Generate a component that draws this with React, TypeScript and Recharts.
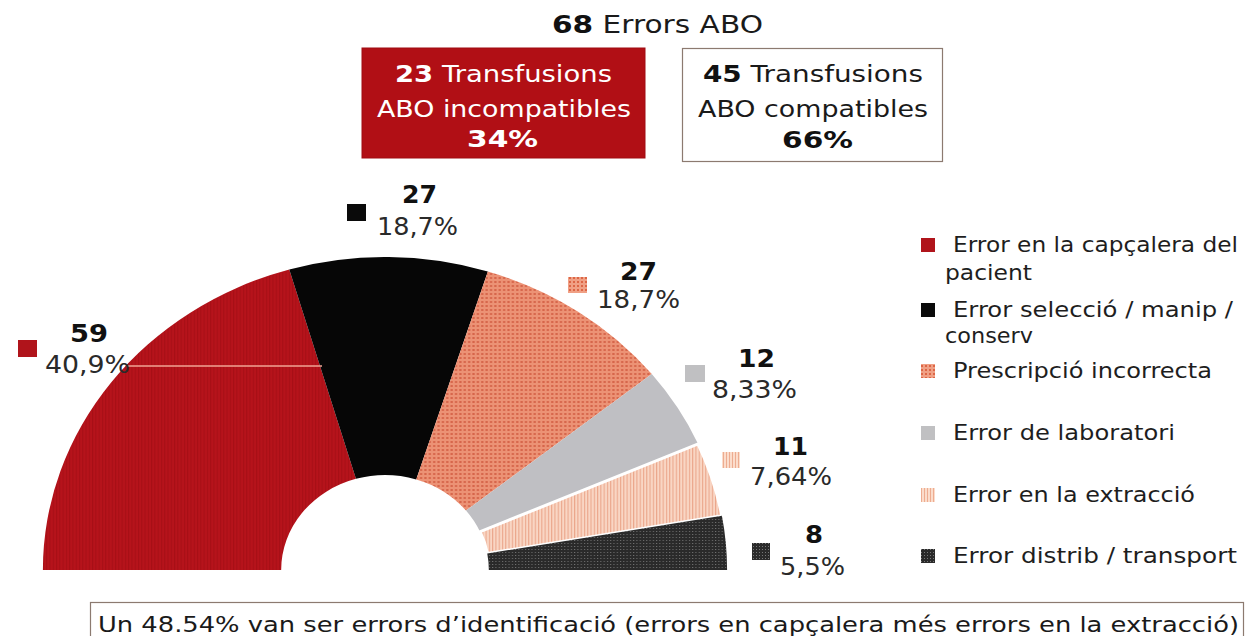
import React from 'react';
import { PieChart, Pie, Cell } from 'recharts';

// ---------- data ----------
const categories = [
  'Error en la capçalera del pacient',
  'Error selecció / manip / conserv',
  'Prescripció incorrecta',
  'Error de laboratori',
  'Error en la extracció',
  'Error distrib / transport',
];
const legendLines = [
  ['Error en la capçalera del', 'pacient'],
  ['Error selecció / manip /', 'conserv'],
  ['Prescripció incorrecta'],
  ['Error de laboratori'],
  ['Error en la extracció'],
  ['Error distrib / transport'],
];
const counts = [59, 27, 27, 12, 11, 8];
const percentLabels = ['40,9%', '18,7%', '18,7%', '8,33%', '7,64%', '5,5%'];
const totalErrors = 68;
const incompatible = { count: 23, line2: 'ABO incompatibles', pct: '34%' };
const compatible = { count: 45, line2: 'ABO compatibles', pct: '66%' };
const footnote =
  'Un 48.54% van ser errors d\u2019identificació (errors en capçalera més errors en la extracció)';

// ---------- styles / layout ----------
const FONT = '"DejaVu Sans", Verdana, sans-serif';
const sliceFills = ['url(#patRed)', '#060606', 'url(#patSalmon)', '#bfbfc3', 'url(#patPink)', 'url(#patDark)'];
const legendFills = ['#b0141b', '#0a0a0a', 'url(#patSalmonL)', '#c0c0c2', 'url(#patPinkL)', 'url(#patDarkL)'];
const STRETCH = 1.093;
const PIE_CX = 385;
const PIE_CY = 570;

// pie annotation layout: square [x,y,w,h], value [x, baseline, width], pct [x, baseline, width]
const labelLayout = [
  { sq: [18, 340, 19, 17], val: [70, 342, 38], pct: [45, 373, 85] },
  { sq: [347, 204, 19, 17], val: [402, 203, 35], pct: [377, 235, 81] },
  { sq: [568, 277, 19, 16], val: [620, 280, 37], pct: [597, 308, 83] },
  { sq: [685, 365, 20, 17], val: [738, 367, 37], pct: [712, 398, 85] },
  { sq: [722, 452, 18, 16], val: [773, 455, 35], pct: [750, 485, 82] },
  { sq: [752, 543, 18, 17], val: [805, 543, 18], pct: [780, 575, 65] },
];
// legend layout: square y, lines [x, baseline, width]
const legendLayout = [
  { sqY: 238, lines: [[953, 252, 285], [945, 280, 87]] },
  { sqY: 303, lines: [[953, 317, 280], [945, 343, 88]] },
  { sqY: 364, lines: [[953, 378, 259]] },
  { sqY: 426, lines: [[953, 440, 222]] },
  { sqY: 488, lines: [[953, 502, 242]] },
  { sqY: 549, lines: [[953, 563, 284]] },
];

const pieData = categories.map((name, i) => ({ name, value: counts[i] }));

function T(props: any) {
  const { x, y, w, size, weight, fill, children } = props;
  return (
    <text
      x={x}
      y={y}
      textLength={w}
      lengthAdjust="spacingAndGlyphs"
      fontFamily={FONT}
      fontSize={size}
      fontWeight={weight || 'normal'}
      fill={fill || '#1a1a1a'}
    >
      {children}
    </text>
  );
}

export default function App() {
  return (
    <div style={{ position: 'absolute', left: 0, top: 0, width: 1253, height: 636, background: '#ffffff', overflow: 'hidden' }}>
      <svg width={0} height={0} style={{ position: 'absolute' }}>
        <defs>
          <pattern id="patRed" width="3" height="3" patternUnits="userSpaceOnUse">
            <rect width="3" height="3" fill="#b6131b" />
            <rect width="1" height="3" fill="#a70f16" />
          </pattern>
          <pattern id="patSalmon" width="4" height="4" patternUnits="userSpaceOnUse">
            <rect width="4" height="4" fill="#ec9275" />
            <rect x="1" y="1" width="2" height="2" fill="#d6654a" />
          </pattern>
          <pattern id="patPink" width="3" height="3" patternUnits="userSpaceOnUse">
            <rect width="3" height="3" fill="#f9d6c4" />
            <rect width="1" height="3" fill="#eba78c" />
          </pattern>
          <pattern id="patDark" width="3" height="3" patternUnits="userSpaceOnUse">
            <rect width="3" height="3" fill="#2a2a2a" />
            <rect width="1" height="1" fill="#707070" />
          </pattern>
          <pattern id="patSalmonL" width="4" height="4" patternUnits="userSpaceOnUse">
            <rect width="4" height="4" fill="#f0a085" />
            <rect x="1" y="1" width="2" height="2" fill="#dc6646" />
          </pattern>
          <pattern id="patPinkL" width="3" height="3" patternUnits="userSpaceOnUse">
            <rect width="3" height="3" fill="#fbdccb" />
            <rect width="1" height="3" fill="#edac90" />
          </pattern>
          <pattern id="patDarkL" width="3" height="3" patternUnits="userSpaceOnUse">
            <rect width="3" height="3" fill="#2a2a2a" />
            <rect width="1" height="1" fill="#777" />
          </pattern>
        </defs>
      </svg>

      <div
        style={{
          position: 'absolute',
          left: 0,
          top: 0,
          width: 1253,
          height: 636,
          transform: `scaleX(${STRETCH})`,
          transformOrigin: `${PIE_CX}px 0px`,
        }}
      >
        <PieChart width={1253} height={636} margin={{ top: 0, right: 0, bottom: 0, left: 0 }}>
          <Pie
            data={pieData}
            dataKey="value"
            nameKey="name"
            cx={PIE_CX}
            cy={PIE_CY}
            startAngle={180}
            endAngle={0}
            innerRadius={95}
            outerRadius={313}
            isAnimationActive={false}
            stroke="none"
          >
            {pieData.map((d, i) => (
              <Cell
                key={d.name}
                fill={sliceFills[i]}
                stroke={i === 4 ? '#ffffff' : 'none'}
                strokeWidth={i === 4 ? 3 : 0}
              />
            ))}
          </Pie>
        </PieChart>
      </div>

      <svg width={1253} height={636} style={{ position: 'absolute', left: 0, top: 0, pointerEvents: 'none' }}>
        {/* title */}
        <T x={552} y={33} w={211} size={24}>
          <tspan fontWeight="bold" fill="#111">{totalErrors}</tspan>
          <tspan> Errors ABO</tspan>
        </T>

        {/* incompatible box */}
        <rect x={362} y={48} width={283} height={110} fill="#b10f15" stroke="#a00c12" strokeWidth={1} />
        <T x={395} y={82} w={217} size={23} fill="#ffffff">
          <tspan fontWeight="bold">{incompatible.count}</tspan>
          <tspan> Transfusions</tspan>
        </T>
        <T x={377} y={117} w={254} size={23} fill="#ffffff">{incompatible.line2}</T>
        <T x={467} y={147} w={71} size={23} weight="bold" fill="#ffffff">{incompatible.pct}</T>

        {/* compatible box */}
        <rect x={682.5} y={48.5} width={260} height={113} fill="#ffffff" stroke="#8c7a70" strokeWidth={1.2} />
        <T x={703} y={82} w={220} size={23} fill="#1a1a1a">
          <tspan fontWeight="bold" fill="#111">{compatible.count}</tspan>
          <tspan> Transfusions</tspan>
        </T>
        <T x={698} y={117} w={230} size={23} fill="#1a1a1a">{compatible.line2}</T>
        <T x={782} y={148} w={71} size={23} weight="bold" fill="#111">{compatible.pct}</T>

        {/* faint leader line across red slice */}
        <line x1={128} y1={366} x2={322} y2={366} stroke="#f0a594" strokeWidth={1.5} />

        {/* pie labels */}
        {labelLayout.map((l, i) => (
          <g key={`lab-${i}`}>
            <rect x={l.sq[0]} y={l.sq[1]} width={l.sq[2]} height={l.sq[3]} fill={legendFills[i]} />
            <T x={l.val[0]} y={l.val[1]} w={l.val[2]} size={24} weight="bold" fill="#111">{counts[i]}</T>
            <T x={l.pct[0]} y={l.pct[1]} w={l.pct[2]} size={24} fill="#2a2a2a">{percentLabels[i]}</T>
          </g>
        ))}

        {/* legend */}
        {legendLayout.map((l, i) => (
          <g key={`leg-${i}`}>
            <rect x={921} y={l.sqY} width={14} height={14} fill={legendFills[i]} />
            {legendLines[i].map((line, j) => (
              <T key={j} x={l.lines[j][0]} y={l.lines[j][1]} w={l.lines[j][2]} size={21} fill="#1e1e1e">{line}</T>
            ))}
          </g>
        ))}

        {/* footnote box */}
        <rect x={90.5} y={602.5} width={1153} height={50} fill="#ffffff" stroke="#8c7a70" strokeWidth={1.2} />
        <T x={98} y={632} w={1141} size={22} fill="#1a1a1a">{footnote}</T>
      </svg>
    </div>
  );
}
